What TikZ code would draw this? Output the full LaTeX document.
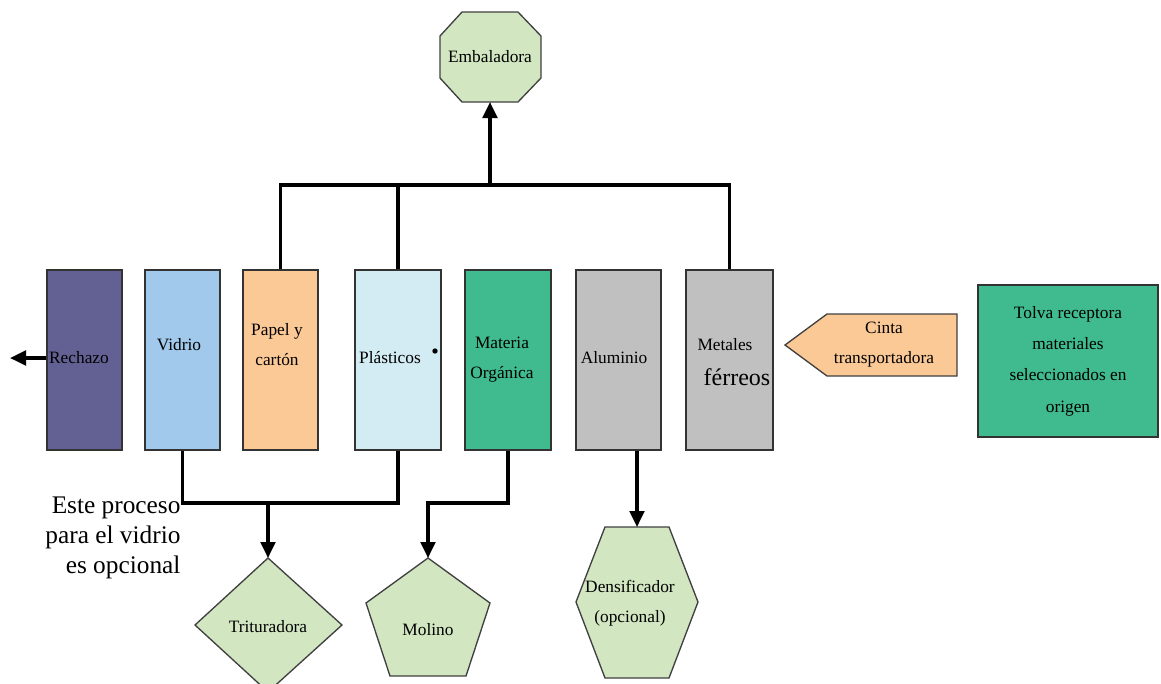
\documentclass[tikz,border=0pt]{standalone}
\usepackage{fontspec}
\setmainfont{Liberation Serif}
\usetikzlibrary{arrows.meta}

\definecolor{rechazoC}{RGB}{99,97,148}
\definecolor{vidrioC}{RGB}{160,201,235}
\definecolor{papelC}{RGB}{251,201,150}
\definecolor{plastC}{RGB}{211,235,242}
\definecolor{organC}{RGB}{63,187,143}
\definecolor{metalC}{RGB}{192,192,192}
\definecolor{maqC}{RGB}{209,230,193}

\tikzset{every picture/.style={line width=0.75pt}}
\tikzset{
  box/.style={draw=black!80, line width=1.1pt, minimum height=135pt, inner sep=0pt},
  lbl/.style={inner sep=0.75pt, font=\fontsize{13}{22.5}\selectfont, align=center},
  wire/.style={line width=2.4pt},
  arr/.style={wire, -{Triangle[length=12pt,width=11pt]}},
  maq/.style={draw=black!75, line width=1pt, fill=maqC, line join=miter},
}

\begin{document}
\begin{tikzpicture}[x=0.75pt,y=0.75pt,yscale=-1,xscale=1]
\useasboundingbox (0,0) rectangle (1161,683);
\clip (0,0) rectangle (1161,683);

%Shape: Octagon (Embaladora)
\draw [maq] (462,12) -- (518,12) -- (541,36) -- (541,78) -- (518,102) -- (462,102) -- (440,78) -- (440,36) -- cycle ;
\coordinate (embBottom) at (490,102);
% Text Node
\node [lbl] (emb) at (490,57) {Embaladora};

%Shapes: columnas de materiales
\node [box, fill=rechazoC, minimum width=56.25pt] (rechazo) at (84.5,360) {};
\node [box, fill=vidrioC, minimum width=56.25pt] (vidrio) at (182.5,360) {};
\node [box, fill=papelC, minimum width=56.25pt] (papel) at (280.5,360) {};
\node [box, fill=plastC, minimum width=64.5pt] (plast) at (398,360) {};
\node [box, fill=organC, minimum width=64.5pt] (organ) at (508,360) {};
\node [box, fill=metalC, minimum width=63.75pt] (alum) at (618.5,360) {};
\node [box, fill=metalC, minimum width=65.25pt] (metal) at (729.5,360) {};

% Text Node
\node [lbl] (rechazoT) at (79,358) {Rechazo};
\node [lbl] (vidrioT) at (179,345) {Vidrio};
\node [lbl] (papelT) at (277,345) {Papel y\\cartón};
\node [lbl] (plastT) at (390,358) {Plásticos};
\node [circle, fill=black, inner sep=0pt, minimum size=4pt] (plastDot) at (435,351) {};
\node [lbl] (organT) at (502,360) {Materia\\Orgánica};
\node [lbl] (alumT) at (614,358) {Aluminio};
\node [lbl] (metalT) at (725,345) {Metales};
\node [lbl, font=\fontsize{18}{20}\selectfont] (ferrT) at (737,377) {férreos};

%Shape: Cinta transportadora
\draw [draw=black!75, line width=1pt, fill=papelC] (827,314) -- (957,314) -- (957,376) -- (827,376) -- (785,345) -- cycle ;
% Text Node
\node [lbl] (cinta) at (884,345) {Cinta\\transportadora};

%Shape: Tolva
\node [box, fill=organC, minimum width=135pt, minimum height=114pt, font=\fontsize{13}{23.5}\selectfont, align=center] (tolva) at (1068,361) {Tolva receptora\\materiales\\seleccionados en\\origen};

%Shape: Diamond (Trituradora)
\draw [maq] (268,558) -- (342,625) -- (268,692) -- (195,625) -- cycle ;
\coordinate (tritTop) at (268,558);
\node [lbl] (trit) at (268,627) {Trituradora};

%Shape: Pentagon (Molino)
\draw [maq] (428,558) -- (490,603) -- (466,676) -- (390,676) -- (366,603) -- cycle ;
\coordinate (molTop) at (428,558);
\node [lbl] (mol) at (428,630) {Molino};

%Shape: Hexagon (Densificador)
\draw [maq] (605,527) -- (669,527) -- (698,602) -- (669,678) -- (605,678) -- (576,602) -- cycle ;
\coordinate (densTop) at (637,527);
\node [lbl] (dens) at (630,603) {Densificador\\(opcional)};

% Text Node
\node [inner sep=0.75pt, font=\fontsize{19}{22.5}\selectfont, align=right, anchor=east] (nota) at (182,538) {Este proceso\\para el vidrio\\es opcional};

%Connectors
\coordinate (topBus) at (490,185);
\coordinate (lowBus) at (268,503);
\coordinate (molBus) at (428,503);
\coordinate (rechazoEnd) at (10,358);
\draw [wire] (papel.north) |- (metal.north |- topBus) -- (metal.north) ;
\draw [wire] (plast.north) -- (plast.north |- topBus) ;
\draw [arr] (topBus) -- (embBottom) ;
\draw [arr] (rechazo.west |- rechazoEnd) -- (rechazoEnd) ;
\draw [wire] (vidrio.south) |- (plast.south |- lowBus) -- (plast.south) ;
\draw [arr] (lowBus) -- (tritTop) ;
\draw [arr] (organ.south) |- (molBus) -- (molTop) ;
\draw [arr] (densTop |- alum.south) -- (densTop) ;

\end{tikzpicture}
\end{document}
